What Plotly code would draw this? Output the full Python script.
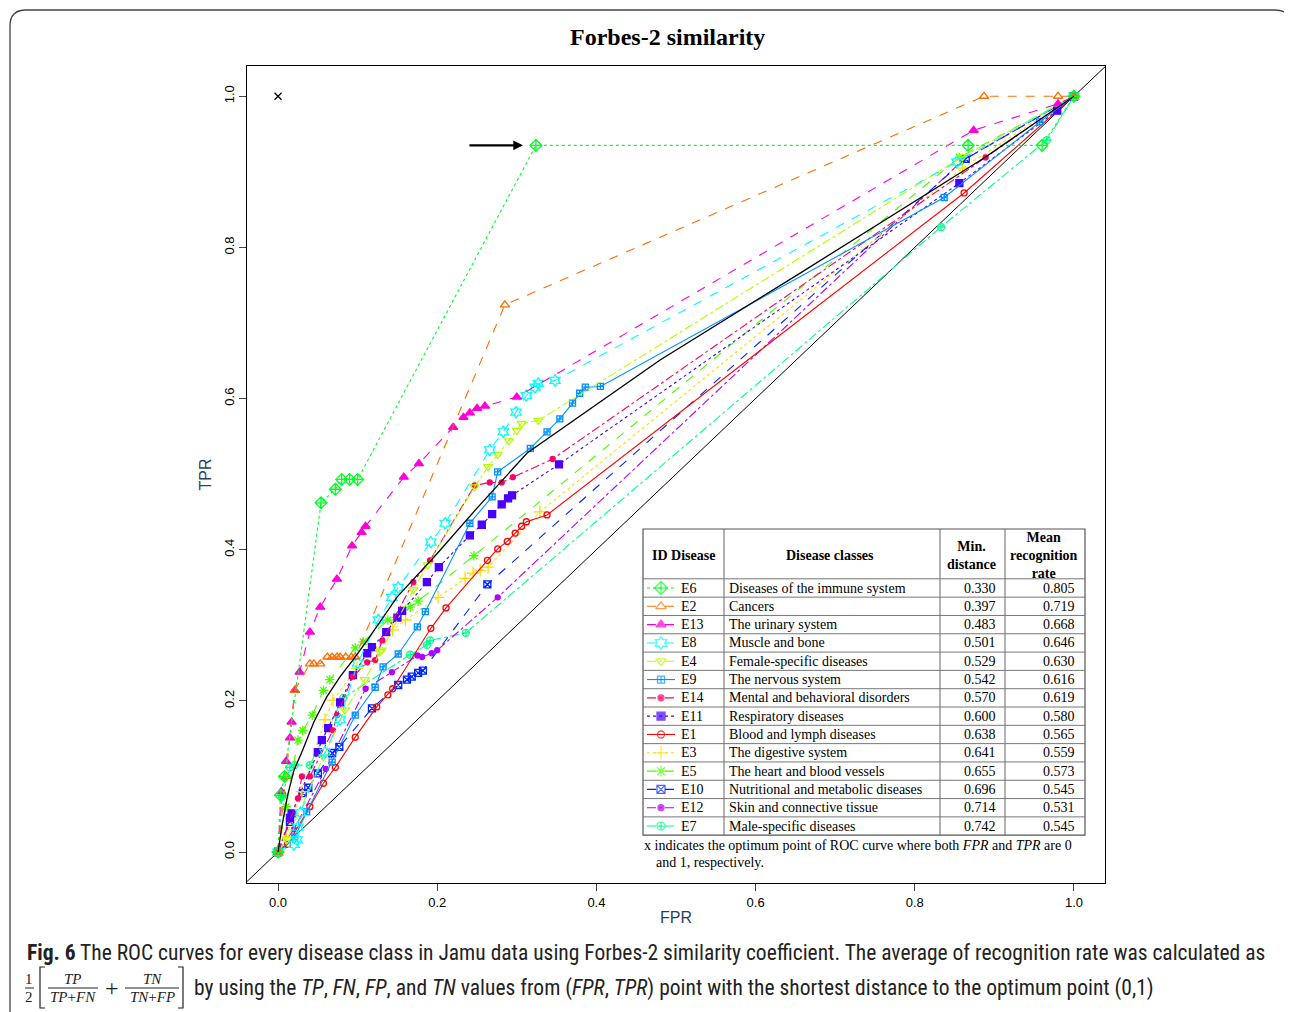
import plotly.graph_objects as go

# ---------------- data ----------------
ids = ["E6", "E2", "E13", "E8", "E4", "E9", "E14", "E11", "E1", "E3", "E5", "E10", "E12", "E7"]
classes = ["Diseases of the immune system", "Cancers", "The urinary system", "Muscle and bone",
           "Female-specific diseases", "The nervous system", "Mental and behavioral disorders",
           "Respiratory diseases", "Blood and lymph diseases", "The digestive system",
           "The heart and blood vessels", "Nutritional and metabolic diseases",
           "Skin and connective tissue", "Male-specific diseases"]
min_dist = ["0.330", "0.397", "0.483", "0.501", "0.529", "0.542", "0.570", "0.600", "0.638", "0.641",
            "0.655", "0.696", "0.714", "0.742"]
mean_rate = ["0.805", "0.719", "0.668", "0.646", "0.630", "0.616", "0.619", "0.580", "0.565", "0.559",
             "0.573", "0.545", "0.531", "0.545"]

E6_fpr = [0, 0.003, 0.008, 0.054, 0.072, 0.08, 0.09, 0.1, 0.324, 0.867, 0.96, 1.0]
E6_tpr = [0, 0.075, 0.1, 0.462, 0.48, 0.493, 0.493, 0.493, 0.935, 0.935, 0.935, 1.0]
E2_fpr = [0, 0.01, 0.021, 0.04, 0.045, 0.053, 0.062, 0.068, 0.074, 0.078, 0.085, 0.092, 0.097, 0.285, 0.887, 0.98, 1.0]
E2_tpr = [0, 0.1, 0.214, 0.249, 0.249, 0.249, 0.258, 0.258, 0.258, 0.258, 0.258, 0.258, 0.258, 0.724, 1.0, 1.0, 1.0]
E13_fpr = [0, 0.004, 0.01, 0.015, 0.017, 0.021, 0.027, 0.04, 0.053, 0.074, 0.093, 0.105, 0.11, 0.158, 0.177,
           0.22, 0.233, 0.241, 0.25, 0.26, 0.3, 0.874, 0.98, 1.0]
E13_tpr = [0, 0.08, 0.12, 0.151, 0.172, 0.214, 0.238, 0.291, 0.324, 0.361, 0.405, 0.423, 0.431, 0.496, 0.514,
           0.562, 0.575, 0.581, 0.587, 0.59, 0.602, 0.955, 0.99, 1.0]
E8_fpr = [0, 0.02, 0.024, 0.025, 0.028, 0.059, 0.078, 0.1, 0.126, 0.143, 0.151, 0.192, 0.21, 0.266, 0.283,
          0.299, 0.312, 0.323, 0.327, 0.348, 0.853, 1.0]
E8_tpr = [0, 0.01, 0.016, 0.033, 0.052, 0.132, 0.175, 0.25, 0.307, 0.337, 0.35, 0.41, 0.435, 0.532, 0.556,
          0.582, 0.604, 0.615, 0.62, 0.624, 0.913, 1.0]
E4_fpr = [0, 0.011, 0.057, 0.084, 0.109, 0.128, 0.13, 0.17, 0.188, 0.247, 0.264, 0.276, 0.29, 0.3, 0.306, 0.327, 0.86, 1.0]
E4_tpr = [0, 0.016, 0.126, 0.188, 0.228, 0.265, 0.267, 0.347, 0.38, 0.483, 0.51, 0.526, 0.544, 0.558, 0.567, 0.571, 0.92, 1.0]
E9_fpr = [0, 0.021, 0.036, 0.068, 0.097, 0.122, 0.132, 0.151, 0.175, 0.185, 0.241, 0.269, 0.276, 0.317, 0.338,
          0.354, 0.37, 0.379, 0.386, 0.405, 0.837, 0.957, 1.0]
E9_tpr = [0, 0.02, 0.053, 0.119, 0.181, 0.218, 0.245, 0.262, 0.298, 0.318, 0.435, 0.47, 0.503, 0.534, 0.556,
          0.573, 0.594, 0.607, 0.615, 0.616, 0.866, 0.966, 1.0]
E14_fpr = [0, 0.025, 0.03, 0.04, 0.069, 0.074, 0.094, 0.112, 0.122, 0.131, 0.17, 0.191, 0.247, 0.266, 0.281, 0.295, 0.345, 0.889, 1.0]
E14_tpr = [0, 0.071, 0.1, 0.1, 0.161, 0.181, 0.232, 0.251, 0.254, 0.28, 0.357, 0.386, 0.485, 0.489, 0.489, 0.496, 0.52, 0.919, 1.0]
E11_fpr = [0, 0.015, 0.017, 0.05, 0.055, 0.063, 0.078, 0.094, 0.112, 0.118, 0.136, 0.15, 0.156, 0.187, 0.202,
           0.241, 0.256, 0.269, 0.281, 0.289, 0.294, 0.353, 0.856, 0.979, 1.0]
E11_tpr = [0, 0.045, 0.051, 0.132, 0.148, 0.164, 0.198, 0.234, 0.263, 0.271, 0.291, 0.31, 0.319, 0.357, 0.377,
           0.419, 0.433, 0.447, 0.46, 0.468, 0.472, 0.513, 0.885, 0.981, 1.0]
E1_fpr = [0, 0.012, 0.04, 0.057, 0.072, 0.097, 0.124, 0.138, 0.144, 0.192, 0.211, 0.263, 0.276, 0.288, 0.298,
          0.306, 0.312, 0.338, 0.862, 1.0]
E1_tpr = [0, 0.01, 0.06, 0.091, 0.112, 0.152, 0.192, 0.208, 0.216, 0.296, 0.323, 0.386, 0.401, 0.411, 0.422,
          0.431, 0.437, 0.446, 0.872, 1.0]
E3_fpr = [0, 0.01, 0.03, 0.059, 0.069, 0.099, 0.144, 0.16, 0.201, 0.235, 0.245, 0.254, 0.264, 0.329, 0.86, 1.0]
E3_tpr = [0, 0.02, 0.08, 0.175, 0.201, 0.243, 0.294, 0.307, 0.337, 0.362, 0.369, 0.373, 0.377, 0.45, 0.905, 1.0]
E5_fpr = [0, 0.01, 0.025, 0.031, 0.043, 0.057, 0.065, 0.097, 0.107, 0.138, 0.166, 0.176, 0.246, 0.856, 1.0]
E5_tpr = [0, 0.06, 0.148, 0.161, 0.181, 0.214, 0.228, 0.27, 0.278, 0.307, 0.324, 0.332, 0.392, 0.919, 1.0]
E10_fpr = [0, 0.015, 0.031, 0.038, 0.05, 0.068, 0.077, 0.118, 0.151, 0.162, 0.168, 0.176, 0.182, 0.263, 0.864, 1.0]
E10_tpr = [0, 0.04, 0.078, 0.085, 0.104, 0.131, 0.139, 0.19, 0.221, 0.228, 0.232, 0.237, 0.24, 0.354, 0.917, 1.0]
E12_fpr = [0, 0.02, 0.06, 0.11, 0.143, 0.175, 0.181, 0.193, 0.2, 0.276, 0.86, 1.0]
E12_tpr = [0, 0.03, 0.11, 0.216, 0.238, 0.26, 0.258, 0.263, 0.267, 0.337, 0.915, 1.0]
E7_fpr = [0, 0.005, 0.015, 0.021, 0.04, 0.082, 0.166, 0.187, 0.191, 0.236, 0.833, 0.966, 1.0]
E7_tpr = [0, 0.073, 0.112, 0.115, 0.115, 0.204, 0.261, 0.274, 0.28, 0.29, 0.827, 0.942, 1.0]
AVG_fpr = [0, 0.005, 0.012, 0.02, 0.031, 0.045, 0.061, 0.078, 0.094, 0.112, 0.15, 0.2, 0.25, 0.313, 0.48, 0.656, 0.888, 1.0]
AVG_tpr = [0, 0.035, 0.075, 0.108, 0.135, 0.172, 0.205, 0.232, 0.254, 0.28, 0.338, 0.395, 0.455, 0.528, 0.651, 0.766, 0.919, 1.0]
OPT_fpr = [0.0]
OPT_tpr = [1.0]

curves = {
    "E6": (E6_fpr, E6_tpr), "E2": (E2_fpr, E2_tpr), "E13": (E13_fpr, E13_tpr), "E8": (E8_fpr, E8_tpr),
    "E4": (E4_fpr, E4_tpr), "E9": (E9_fpr, E9_tpr), "E14": (E14_fpr, E14_tpr), "E11": (E11_fpr, E11_tpr),
    "E1": (E1_fpr, E1_tpr), "E3": (E3_fpr, E3_tpr), "E5": (E5_fpr, E5_tpr), "E10": (E10_fpr, E10_tpr),
    "E12": (E12_fpr, E12_tpr), "E7": (E7_fpr, E7_tpr),
}

# ---------------- styles ----------------
style = {
    "E1": ("#FF0000", "solid", "circle-open", 6),
    "E2": ("#FF6D00", "dash", "triangle-up-open", 8),
    "E3": ("#FFDB00", "dot", "cross-thin-open", 9),
    "E4": ("#B6FF00", "dashdot", "triangle-down-open", 8),
    "E5": ("#49FF00", "dash", "asterisk-open", 8),
    "E6": ("#00FF24", "dot", "diamond-cross-open", 9),
    "E7": ("#00FF92", "dashdot", "circle-cross-open", 7),
    "E8": ("#00FFFF", "dash", "hexagram-open", 9),
    "E9": ("#0092FF", "solid", "square-cross-open", 6),
    "E10": ("#0024FF", "dash", "square-x-open", 7),
    "E11": ("#4900FF", "dot", "square", 7),
    "E12": ("#B600FF", "dashdot", "circle", 5),
    "E13": ("#FF00DB", "dash", "triangle-up", 8),
    "E14": ("#FF006D", "dashdot", "circle", 5),
}

fig = go.Figure()

# diagonal reference line
fig.add_trace(go.Scatter(x=[-0.1, 1.1], y=[-0.1, 1.1], mode="lines",
                         line=dict(color="black", width=1), showlegend=False, hoverinfo="skip"))

for k in reversed(ids):
    c, d, s, sz = style[k]
    fx, ty = curves[k]
    fig.add_trace(go.Scatter(
        x=fx, y=ty, mode="lines+markers", name=k,
        line=dict(color=c, width=1.1, dash=d),
        marker=dict(symbol=s, size=sz, color=c, line=dict(color=c, width=1.3)),
        showlegend=False))

fig.add_trace(go.Scatter(x=AVG_fpr, y=AVG_tpr, mode="lines", line=dict(color="black", width=1.3),
                         showlegend=False))
fig.add_trace(go.Scatter(x=OPT_fpr, y=OPT_tpr, mode="markers",
                         marker=dict(symbol="x-thin", size=7, color="black", line=dict(color="black", width=1.3)),
                         showlegend=False))

# ---------------- pixel -> paper helpers ----------------
OFF = 8  # page body margin of the browser
L, R, T, B = 247, 1105, 66, 883
def PX(x):
    return (x - L) / (R - L)
def PY(y):
    return (B - y) / (B - T)

shapes = []
annots = []
serif = "Liberation Serif, Times New Roman, serif"

# table geometry
cols = [643, 724, 940, 1005, 1085]
top, head_bot = 529, 578.8
rh = 18.31
row_c = [588 + rh * i for i in range(len(ids))]
bot = row_c[-1] + rh / 2
shapes.append(dict(type="rect", xref="paper", yref="paper", x0=PX(cols[0]), x1=PX(cols[-1]),
                   y0=PY(bot), y1=PY(top), fillcolor="white", line=dict(color="#555", width=1.2), layer="below"))
for cx in cols[1:-1]:
    shapes.append(dict(type="line", xref="paper", yref="paper", x0=PX(cx), x1=PX(cx), y0=PY(bot), y1=PY(top),
                       line=dict(color="#666", width=1), layer="below"))
row_edges = [head_bot] + [row_c[i] + rh / 2 for i in range(len(ids) - 1)]
for ry in row_edges:
    shapes.append(dict(type="line", xref="paper", yref="paper", x0=PX(cols[0]), x1=PX(cols[-1]), y0=PY(ry), y1=PY(ry),
                       line=dict(color="#777", width=1), layer="below"))

hdr = dict(xref="paper", yref="paper", showarrow=False, xanchor="center", yanchor="middle",
           font=dict(family=serif, size=14, color="black"))
annots.append(dict(hdr, x=PX(683), y=PY(555), text="<b>ID Disease</b>"))
annots.append(dict(hdr, x=PX(830), y=PY(555), text="<b>Disease classes</b>"))
annots.append(dict(hdr, x=PX(971), y=PY(555), text="<b>Min.<br>distance</b>"))
annots.append(dict(hdr, x=PX(1044), y=PY(555), text="<b>Mean<br>recognition<br>rate</b>"))

for i, k in enumerate(ids):
    yc = PY(row_c[i])
    annots.append(dict(hdr, x=PX(679), y=yc, xanchor="left", text=k))
    annots.append(dict(hdr, x=PX(727), y=yc, xanchor="left", text=classes[i]))
    annots.append(dict(hdr, x=PX(998), y=yc, xanchor="right", text=min_dist[i]))
    annots.append(dict(hdr, x=PX(1077), y=yc, xanchor="right", text=mean_rate[i]))
    c, d, s, sz = style[k]
    fig.add_trace(go.Scatter(x=[PX(647), PX(661), PX(675)], y=[yc, yc, yc], xaxis="x2", yaxis="y2",
                             mode="lines+markers", line=dict(color=c, width=1.1, dash=d),
                             marker=dict(symbol=s, size=[0, sz + 1, 0], color=c, line=dict(color=c, width=1.3)),
                             showlegend=False, hoverinfo="skip"))

annots.append(dict(hdr, x=PX(642), y=PY(845), xanchor="left",
                   text="x indicates the optimum point of ROC curve where both <i>FPR</i> and <i>TPR</i> are 0"))
annots.append(dict(hdr, x=PX(654), y=PY(862), xanchor="left", text="and 1, respectively."))

# arrow pointing at the E6 optimum
annots.append(dict(x=E6_fpr[8], y=E6_tpr[8], xref="x", yref="y", ax=-68, ay=0, axref="pixel", ayref="pixel",
                   showarrow=True, arrowhead=2, arrowsize=0.8, arrowwidth=2.4, arrowcolor="black", standoff=13, text=""))

# title
annots.append(dict(hdr, x=PX(667), y=PY(37), text="<b>Forbes-2 similarity</b>",
                   font=dict(family=serif, size=24, color="black")))

# outer rounded frame
path = (f"M {PX(10)} {PY(1015)} L {PX(10)} {PY(26)} Q {PX(10)} {PY(10)} {PX(26)} {PY(10)} "
        f"L {PX(1275)} {PY(10)} Q {PX(1291)} {PY(10)} {PX(1291)} {PY(26)} L {PX(1291)} {PY(1015)}")
shapes.append(dict(type="path", xref="paper", yref="paper", path=path, line=dict(color="#444", width=1.3)))

# caption
cap_font = dict(family="Liberation Sans Narrow, Roboto Condensed, Arial Narrow, sans-serif", size=21.5, color="#222")
cap = dict(xref="paper", yref="paper", showarrow=False, xanchor="left", yanchor="middle", font=cap_font)
annots.append(dict(cap, x=PX(25), y=PY(952),
                   text="<b>Fig. 6</b> The ROC curves for every disease class in Jamu data using Forbes-2 similarity "
                        "coefficient. The average of recognition rate was calculated as"))
annots.append(dict(cap, x=PX(192), y=PY(988),
                   text="by using the <i>TP</i>, <i>FN</i>, <i>FP</i>, and <i>TN</i> values from (<i>FPR</i>, "
                        "<i>TPR</i>) point with the shortest distance to the optimum point (0,1)"))
ff = dict(family=serif, size=15, color="#222")
for (xx, yy, tx) in [(29, 979, "1"), (29, 997, "2"), (73, 979, "<i>TP</i>"), (73, 997, "<i>TP</i>+<i>FN</i>"),
                     (152, 979, "<i>TN</i>"), (152, 997, "<i>TN</i>+<i>FP</i>")]:
    annots.append(dict(xref="paper", yref="paper", x=PX(xx), y=PY(yy), showarrow=False, xanchor="center",
                       yanchor="middle", font=ff, text=tx))
annots.append(dict(xref="paper", yref="paper", x=PX(112), y=PY(988), showarrow=False, xanchor="center",
                   yanchor="middle", font=dict(family=serif, size=24, color="#222"), text="+"))
for (x0, x1) in [(25, 34), (48, 98), (125, 179)]:
    shapes.append(dict(type="line", xref="paper", yref="paper", x0=PX(x0), x1=PX(x1), y0=PY(988), y1=PY(988),
                       line=dict(color="#222", width=1)))
for (xa, xb) in [(40, 45), (183, 178)]:
    shapes.append(dict(type="path", xref="paper", yref="paper",
                       path=f"M {PX(xb)} {PY(967)} L {PX(xa)} {PY(967)} L {PX(xa)} {PY(1008)} L {PX(xb)} {PY(1008)}",
                       line=dict(color="#222", width=1.2)))

tick_font = dict(family="Liberation Sans, Arial, sans-serif", size=13, color="black")
fig.update_layout(
    width=1292 - OFF, height=1012 - OFF,
    margin=dict(l=L - OFF, r=1292 - R, t=T - OFF, b=1012 - B, autoexpand=False),
    paper_bgcolor="white", plot_bgcolor="white",
    shapes=shapes, annotations=annots,
    xaxis=dict(range=[-0.039, 1.039], tickvals=[0, 0.2, 0.4, 0.6, 0.8, 1.0],
               ticktext=["0.0", "0.2", "0.4", "0.6", "0.8", "1.0"], ticks="outside", ticklen=7,
               showgrid=False, zeroline=False, showline=True, mirror=True, linecolor="black", linewidth=1,
               tickfont=tick_font, title=dict(text="FPR", font=dict(family="Liberation Sans, Arial", size=16), standoff=3)),
    yaxis=dict(range=[-0.041, 1.04], tickvals=[0, 0.2, 0.4, 0.6, 0.8, 1.0],
               ticktext=["0.0", "0.2", "0.4", "0.6", "0.8", "1.0"], ticks="outside", ticklen=7, tickangle=-90,
               showgrid=False, zeroline=False, showline=True, mirror=True, linecolor="black", linewidth=1,
               tickfont=tick_font, title=dict(text="TPR", font=dict(family="Liberation Sans, Arial", size=16), standoff=6)),
    xaxis2=dict(overlaying="x", range=[0, 1], visible=False),
    yaxis2=dict(overlaying="y", range=[0, 1], visible=False),
)

fig.write_html("out.html")
